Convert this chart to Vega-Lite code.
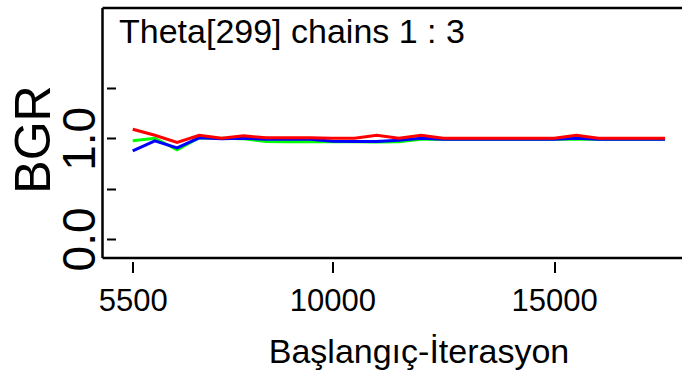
{
  "$schema": "https://vega.github.io/schema/vega-lite/v6.json",
  "autosize": {"type": "none"},
  "padding": {"left": 102.5, "top": 8, "right": 0, "bottom": 113},
  "width": 579.5,
  "height": 250,
  "background": "white",
  "config": {
    "view": {"stroke": null},
    "font": "Liberation Sans",
    "axis": {"grid": false, "domain": false, "tickColor": "black", "labelColor": "black", "titleColor": "black", "labelFont": "Liberation Sans", "titleFont": "Liberation Sans", "titleFontWeight": "normal"}
  },
  "datasets": {
    "frameV": [{"x": 4819}],
    "frameH": [{"y": -0.189}, {"y": 2.294}],
    "title": [{"label": "Theta[299] chains 1 : 3", "x": 5191, "y": 1.946}]
  },
  "data": {
    "values": [
      {"it": 5500, "series": "green", "bgr": 0.975},
      {"it": 6000, "series": "green", "bgr": 1.0},
      {"it": 6500, "series": "green", "bgr": 0.885},
      {"it": 7000, "series": "green", "bgr": 1.005},
      {"it": 7500, "series": "green", "bgr": 1.0},
      {"it": 8000, "series": "green", "bgr": 0.995},
      {"it": 8500, "series": "green", "bgr": 0.968},
      {"it": 9000, "series": "green", "bgr": 0.965},
      {"it": 9500, "series": "green", "bgr": 0.965},
      {"it": 10000, "series": "green", "bgr": 0.965},
      {"it": 10500, "series": "green", "bgr": 0.965},
      {"it": 11000, "series": "green", "bgr": 0.963},
      {"it": 11500, "series": "green", "bgr": 0.965},
      {"it": 12000, "series": "green", "bgr": 0.99},
      {"it": 12500, "series": "green", "bgr": 0.99},
      {"it": 13000, "series": "green", "bgr": 0.99},
      {"it": 13500, "series": "green", "bgr": 0.99},
      {"it": 14000, "series": "green", "bgr": 0.99},
      {"it": 14500, "series": "green", "bgr": 0.99},
      {"it": 15000, "series": "green", "bgr": 0.99},
      {"it": 15500, "series": "green", "bgr": 0.99},
      {"it": 16000, "series": "green", "bgr": 0.99},
      {"it": 16500, "series": "green", "bgr": 0.99},
      {"it": 17000, "series": "green", "bgr": 0.99},
      {"it": 17500, "series": "green", "bgr": 0.99},
      {"it": 5500, "series": "blue", "bgr": 0.875},
      {"it": 6000, "series": "blue", "bgr": 0.975},
      {"it": 6500, "series": "blue", "bgr": 0.905},
      {"it": 7000, "series": "blue", "bgr": 1.005},
      {"it": 7500, "series": "blue", "bgr": 0.995},
      {"it": 8000, "series": "blue", "bgr": 1.0},
      {"it": 8500, "series": "blue", "bgr": 0.99},
      {"it": 9000, "series": "blue", "bgr": 0.99},
      {"it": 9500, "series": "blue", "bgr": 0.99},
      {"it": 10000, "series": "blue", "bgr": 0.97},
      {"it": 10500, "series": "blue", "bgr": 0.967},
      {"it": 11000, "series": "blue", "bgr": 0.967},
      {"it": 11500, "series": "blue", "bgr": 0.98},
      {"it": 12000, "series": "blue", "bgr": 1.0},
      {"it": 12500, "series": "blue", "bgr": 0.99},
      {"it": 13000, "series": "blue", "bgr": 0.99},
      {"it": 13500, "series": "blue", "bgr": 0.99},
      {"it": 14000, "series": "blue", "bgr": 0.99},
      {"it": 14500, "series": "blue", "bgr": 0.99},
      {"it": 15000, "series": "blue", "bgr": 0.99},
      {"it": 15500, "series": "blue", "bgr": 1.0},
      {"it": 16000, "series": "blue", "bgr": 0.99},
      {"it": 16500, "series": "blue", "bgr": 0.99},
      {"it": 17000, "series": "blue", "bgr": 0.99},
      {"it": 17500, "series": "blue", "bgr": 0.99},
      {"it": 5500, "series": "red", "bgr": 1.09},
      {"it": 6000, "series": "red", "bgr": 1.03},
      {"it": 6500, "series": "red", "bgr": 0.96},
      {"it": 7000, "series": "red", "bgr": 1.03},
      {"it": 7500, "series": "red", "bgr": 1.0},
      {"it": 8000, "series": "red", "bgr": 1.025},
      {"it": 8500, "series": "red", "bgr": 1.005},
      {"it": 9000, "series": "red", "bgr": 1.005},
      {"it": 9500, "series": "red", "bgr": 1.005},
      {"it": 10000, "series": "red", "bgr": 1.0},
      {"it": 10500, "series": "red", "bgr": 1.0},
      {"it": 11000, "series": "red", "bgr": 1.03},
      {"it": 11500, "series": "red", "bgr": 1.0},
      {"it": 12000, "series": "red", "bgr": 1.03},
      {"it": 12500, "series": "red", "bgr": 1.0},
      {"it": 13000, "series": "red", "bgr": 1.0},
      {"it": 13500, "series": "red", "bgr": 1.0},
      {"it": 14000, "series": "red", "bgr": 1.0},
      {"it": 14500, "series": "red", "bgr": 1.0},
      {"it": 15000, "series": "red", "bgr": 1.0},
      {"it": 15500, "series": "red", "bgr": 1.03},
      {"it": 16000, "series": "red", "bgr": 1.0},
      {"it": 16500, "series": "red", "bgr": 1.0},
      {"it": 17000, "series": "red", "bgr": 1.0},
      {"it": 17500, "series": "red", "bgr": 1.0}
    ]
  },
  "layer": [
    {
      "mark": {"type": "line", "strokeWidth": 3, "clip": true},
      "encoding": {
        "x": {
          "field": "it", "type": "quantitative",
          "scale": {"domain": [4819, 17882], "nice": false, "zero": false},
          "axis": {
            "values": [5500, 10000, 15000], "format": "d",
            "offset": 3.5, "tickSize": 11, "tickWidth": 2,
            "labelFontSize": 31, "labelPadding": 14,
            "title": "Başlangıç-İterasyon", "titleFontSize": 34, "titlePadding": 46, "titleBaseline": "alphabetic", "titleX": 316
          }
        },
        "y": {
          "field": "bgr", "type": "quantitative",
          "scale": {"domain": [-0.189, 2.294], "nice": false, "zero": false},
          "axis": {
            "values": [0, 0.5, 1, 1.5],
            "labelExpr": "datum.value == 0 || datum.value == 1 ? format(datum.value, '.1f') : ''",
            "offset": -13, "tickSize": 9, "tickWidth": 2,
            "labelFontSize": 46, "labelAngle": -90, "labelAlign": "center", "labelBaseline": "alphabetic", "labelPadding": 12.5,
            "title": "BGR", "titleFontSize": 50, "titleAngle": -90, "titleBaseline": "alphabetic", "titlePadding": 8, "titleY": 131
          }
        },
        "color": {
          "field": "series", "type": "nominal",
          "scale": {"domain": ["green", "blue", "red"], "range": ["#00FF00", "#0000FF", "#FF0000"]},
          "legend": null
        }
      }
    },
    {
      "data": {"name": "frameV"},
      "mark": {"type": "rule", "color": "black", "strokeWidth": 2.5},
      "encoding": {"x": {"field": "x", "type": "quantitative"}}
    },
    {
      "data": {"name": "frameH"},
      "mark": {"type": "rule", "color": "black", "strokeWidth": 2.5},
      "encoding": {"y": {"field": "y", "type": "quantitative"}}
    },
    {
      "data": {"name": "title"},
      "mark": {"type": "text", "align": "left", "baseline": "alphabetic", "fontSize": 34, "font": "Liberation Sans", "color": "black"},
      "encoding": {
        "x": {"field": "x", "type": "quantitative"},
        "y": {"field": "y", "type": "quantitative"},
        "text": {"field": "label"}
      }
    }
  ]
}
